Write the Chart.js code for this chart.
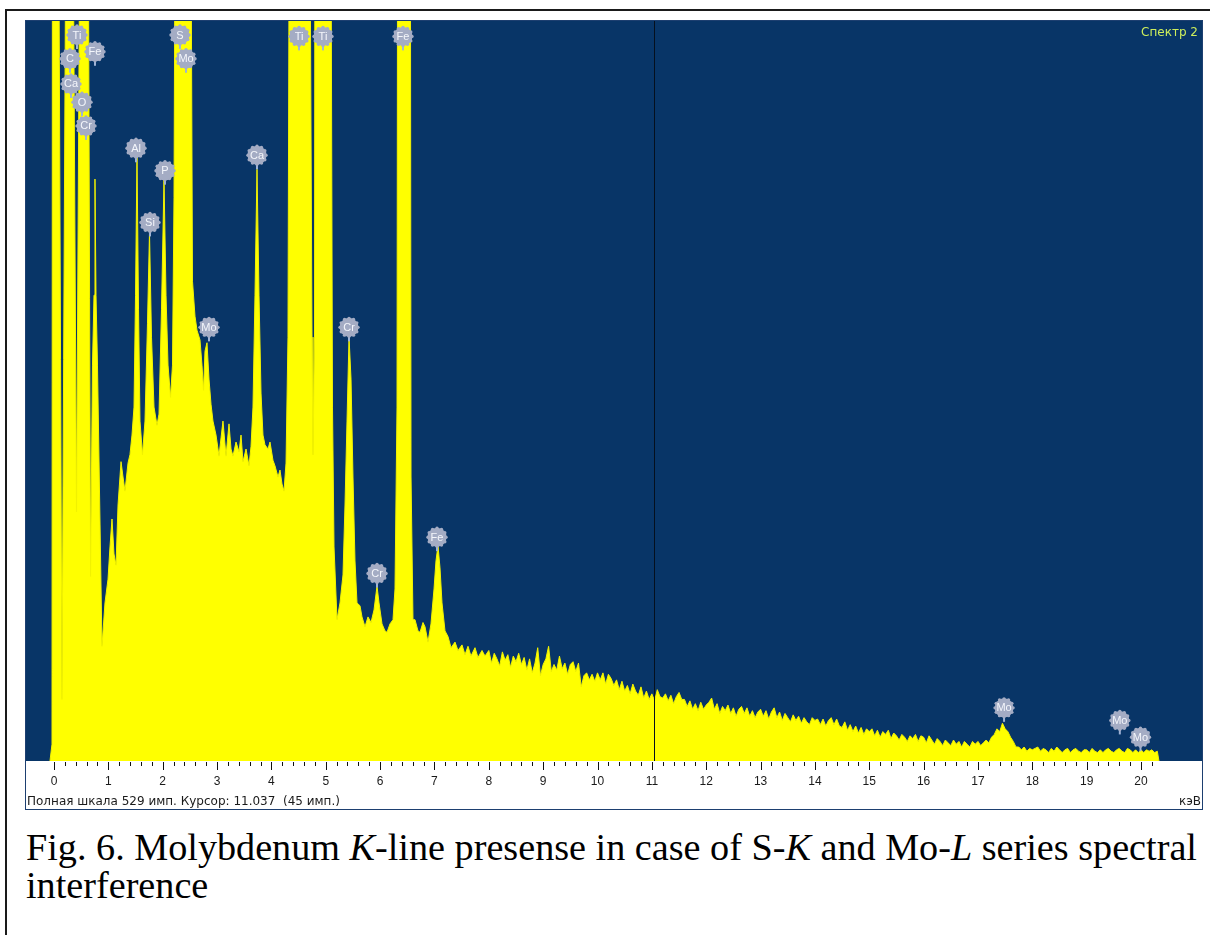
<!DOCTYPE html>
<html>
<head>
<meta charset="utf-8">
<script src="https://cdn.jsdelivr.net/npm/chart.js@4.4.0/dist/chart.umd.min.js"></script>
<style>
  html, body { margin: 0; padding: 0; background: #fff; overflow: hidden; }
  body { width: 1210px; height: 935px; position: relative; font-family: "Liberation Sans", Arial, sans-serif; }
  #frame { position: absolute; left: 5px; top: 9px; width: 1220px; height: 950px; border-top: 2px solid #1a1a1a; border-left: 2px solid #1a1a1a; }
  #box { position: absolute; left: 25px; top: 20px; width: 1176px; height: 788px; border: 1px solid #1d3f70; background: #fff; }
  #box canvas { position: absolute; left: 0; top: 0; }
  .txt { position: absolute; font-family: "DejaVu Sans", Verdana, sans-serif; font-size: 12px; line-height: 14px; color: #1a1a1a; white-space: nowrap; }
  #spec { position: absolute; right: 4px; top: 4px; font-family: "DejaVu Sans", Verdana, sans-serif; font-size: 12px; line-height: 14px; color: #cdee5c; }
  #caption { position: absolute; left: 26px; top: 828px; font-family: "Liberation Serif", "Times New Roman", serif; font-size: 38.2px; line-height: 38px; color: #000; white-space: nowrap; }
</style>
</head>
<body>
<div id="frame"></div>
<div id="box">
  <canvas id="chart" width="1176" height="788"></canvas>
  <div id="spec">Спектр 2</div>
  <div class="txt" style="left:1px; top:773px;">Полная шкала 529 имп. Курсор: 11.037&nbsp;&nbsp;(45 имп.)</div>
  <div class="txt" style="right:1px; top:773px;">кэВ</div>
</div>
<div id="caption">Fig. 6. Molybdenum <i>K</i>-line presense in case of S-<i>K</i> and Mo-<i>L</i> series spectral<br>interference</div>

<script>
// spectrum below 8 keV, read point by point (keV, counts); 1500 = off scale
const lowEnergy = [
  -0.074, -0.037, -0.018, 0.074, 0.092, 0.147, 0.212, 0.239, 0.331, 0.359,
  0.414, 0.469, 0.497, 0.616, 0.635, 0.672, 0.708, 0.736, 0.754, 0.773,
  0.800, 0.883, 0.938, 0.994, 1.030, 1.067, 1.104, 1.141, 1.178, 1.233,
  1.270, 1.306, 1.362, 1.398, 1.435, 1.472, 1.500, 1.527, 1.555, 1.582,
  1.628, 1.674, 1.720, 1.757, 1.794, 1.840, 1.895, 1.932, 1.978, 2.024,
  2.061, 2.098, 2.144, 2.180, 2.208, 2.236, 2.263, 2.484, 2.521, 2.548,
  2.594, 2.631, 2.686, 2.723, 2.751, 2.778, 2.815, 2.852, 2.889, 2.925,
  2.981, 3.036, 3.073, 3.109, 3.165, 3.220, 3.257, 3.293, 3.349, 3.404,
  3.441, 3.477, 3.533, 3.588, 3.625, 3.661, 3.698, 3.735, 3.772, 3.809,
  3.845, 3.882, 3.937, 3.974, 4.029, 4.066, 4.121, 4.158, 4.195, 4.232,
  4.269, 4.305, 4.342, 4.379, 4.673, 4.710, 4.747, 4.765, 4.793, 4.821,
  5.060, 5.097, 5.124, 5.152, 5.207, 5.262, 5.317, 5.354, 5.391, 5.428,
  5.465, 5.501, 5.538, 5.575, 5.630, 5.667, 5.722, 5.777, 5.833, 5.888,
  5.943, 5.980, 6.035, 6.090, 6.127, 6.182, 6.237, 6.274, 6.311, 6.348,
  6.532, 6.569, 6.605, 6.642, 6.697, 6.734, 6.789, 6.826, 6.881, 6.936,
  6.992, 7.028, 7.065, 7.102, 7.139, 7.194, 7.249, 7.305, 7.378, 7.433,
  7.507, 7.562, 7.617, 7.672, 7.746, 7.801, 7.875, 7.930
]
const lowCounts = [
  0, 12, 1500, 1500, 560, 44, 560, 1500, 1500, 560,
  178, 560, 1500, 1500, 560, 132, 283, 333, 416, 333,
  283, 82, 113, 130, 153, 173, 148, 140, 183, 214,
  203, 193, 213, 219, 233, 253, 333, 433, 323, 243,
  219, 243, 313, 378, 303, 253, 240, 248, 323, 416,
  333, 283, 260, 283, 403, 700, 1500, 1500, 600, 343,
  318, 308, 301, 283, 265, 293, 299, 273, 255, 243,
  233, 218, 231, 243, 218, 241, 223, 218, 228, 221,
  233, 214, 223, 211, 225, 253, 333, 423, 333, 263,
  233, 226, 223, 228, 215, 211, 203, 208, 198, 193,
  213, 303, 800, 1500, 1500, 600, 303, 219, 303, 1500,
  1500, 600, 253, 153, 101, 113, 133, 183, 243, 303,
  273, 203, 143, 113, 111, 103, 96, 103, 99, 108,
  125, 113, 98, 93, 92, 98, 101, 123, 253, 1500,
  1500, 203, 101, 101, 93, 92, 99, 96, 85, 98,
  123, 143, 154, 138, 113, 93, 89, 81, 85, 79,
  83, 76, 82, 75, 81, 74, 79, 75
]

// continuum from 8.00 keV in 0.05 keV channels
const tailStart = 8.0
const tailStep = 0.05
const tailCounts = [
  79, 70, 77, 73, 68, 78, 72, 76, 67, 75, 71, 77, 69, 74, 65, 73, 63, 70, 81, 61,
  69, 73, 82, 64, 69, 65, 75, 66, 70, 62, 69, 71, 64, 70, 53, 61, 63, 58, 62, 57,
  63, 58, 63, 55, 62, 59, 54, 58, 51, 57, 50, 54, 48, 55, 50, 47, 53, 45, 50, 44,
  48, 43, 51, 46, 45, 48, 43, 47, 41, 46, 49, 44, 44, 39, 43, 37, 41, 36, 42, 37,
  40, 42, 45, 37, 41, 34, 39, 36, 40, 34, 38, 32, 37, 39, 34, 38, 32, 36, 31, 35,
  37, 32, 36, 30, 35, 38, 31, 35, 29, 34, 31, 28, 33, 29, 32, 27, 31, 28, 26, 31,
  29, 30, 26, 30, 25, 29, 31, 26, 30, 25, 24, 28, 22, 26, 21, 25, 20, 24, 19, 23,
  21, 23, 18, 22, 17, 21, 19, 22, 16, 20, 18, 15, 19, 17, 14, 18, 16, 19, 14, 18,
  17, 13, 18, 15, 12, 16, 14, 11, 15, 13, 11, 15, 12, 14, 10, 14, 12, 10, 14, 12,
  14, 11, 13, 15, 13, 17, 19, 23, 21, 27, 23, 21, 17, 14, 10, 10, 8, 10, 7, 9,
  8, 9, 10, 7, 9, 8, 6, 9, 7, 10, 8, 6, 8, 9, 6, 8, 9, 7, 6, 8,
  8, 6, 9, 7, 6, 8, 6, 8, 9, 7, 6, 8, 9, 7, 6, 9, 8, 6, 8, 6,
  8, 6, 8, 7, 8, 6, 7
]
const endEnergy = [20.33]
const endCounts = [0]

// element markers: symbol, energy (keV), marker height (counts)
const markerSymbols = ['Ti', 'C', 'Fe', 'Ca', 'O', 'Cr', 'Al', 'Si', 'P', 'S', 'Mo', 'Mo', 'Ca',
  'Ti', 'Ti', 'Fe', 'Cr', 'Cr', 'Fe', 'Mo', 'Mo', 'Mo']
const markerEnergy = [0.423, 0.294, 0.754, 0.313, 0.515, 0.589, 1.509, 1.766, 2.042, 2.318, 2.429, 2.852, 3.735,
  4.508, 4.949, 6.421, 5.428, 5.943, 7.047, 17.48, 19.61, 19.99]
const markerHeight = [519, 502, 507, 484, 471, 454, 438, 385, 422, 519, 502, 310, 433,
  518, 518, 518, 310, 134, 160, 38, 29, 17]

const majorTicks = [0, 1, 2, 3, 4, 5, 6, 7, 8, 9, 10, 11, 12, 13, 14, 15, 16, 17, 18, 19, 20]
const fullScale = 529
const cursorKeV = 11.037

const plotBg = '#083567'
const fillYellow = '#ffff00'

const points = []
lowEnergy.forEach((e, i) => points.push({ x: e, y: lowCounts[i] }))
tailCounts.forEach((c, i) => points.push({ x: tailStart + i * tailStep, y: c }))
endEnergy.forEach((e, i) => points.push({ x: e, y: endCounts[i] }))

const spectrumDecor = {
  id: 'spectrumDecor',
  beforeDraw(chart) {
    const { ctx, chartArea: a } = chart
    ctx.save()
    ctx.fillStyle = plotBg
    ctx.fillRect(a.left, a.top, a.right - a.left, a.bottom - a.top)
    ctx.restore()
  },
  afterDatasetsDraw(chart) {
    const { ctx, chartArea: a, scales: { x, y } } = chart
    ctx.save()
    // cursor
    const cx = Math.round(x.getPixelForValue(cursorKeV)) + 0.5
    ctx.strokeStyle = '#05101e'
    ctx.lineWidth = 1
    ctx.beginPath()
    ctx.moveTo(cx, a.top)
    ctx.lineTo(cx, a.bottom)
    ctx.stroke()

    // tick marks every 0.2 keV
    ctx.strokeStyle = '#111'
    for (let i = 0; i <= 101; i++) {
      const px = Math.round(x.getPixelForValue(i * 0.2)) + 0.5
      const len = i % 5 === 0 ? 8 : 4
      ctx.beginPath()
      ctx.moveTo(px, a.bottom + 1)
      ctx.lineTo(px, a.bottom + 1 + len)
      ctx.stroke()
    }

    // element markers
    ctx.font = '11px "Liberation Sans", Arial, sans-serif'
    ctx.textAlign = 'center'
    ctx.textBaseline = 'middle'
    markerSymbols.forEach((sym, i) => {
      const mx = x.getPixelForValue(markerEnergy[i])
      const my = y.getPixelForValue(markerHeight[i])
      ctx.strokeStyle = '#9fb3d6'
      ctx.lineWidth = 2
      ctx.beginPath()
      ctx.moveTo(mx, my + 7)
      ctx.lineTo(mx, my + 14)
      ctx.stroke()
      ctx.fillStyle = '#a4acc4'
      for (let k = 0; k < 12; k++) {
        const ang = k * Math.PI / 6
        ctx.beginPath()
        ctx.arc(mx + Math.cos(ang) * 9, my + Math.sin(ang) * 9, 1.7, 0, Math.PI * 2)
        ctx.fill()
      }
      ctx.beginPath()
      ctx.arc(mx, my, 9.5, 0, Math.PI * 2)
      ctx.fill()
      ctx.fillStyle = '#f4f6fb'
      ctx.fillText(sym, mx, my + 0.5)
    })
    ctx.restore()
  }
}

new Chart(document.getElementById('chart'), {
  type: 'line',
  data: {
    datasets: [{
      data: points,
      fill: 'origin',
      backgroundColor: fillYellow,
      borderColor: '#f2f200',
      borderWidth: 1,
      pointRadius: 0,
      tension: 0
    }]
  },
  options: {
    responsive: false,
    animation: false,
    devicePixelRatio: 1,
    layout: { padding: 0 },
    plugins: { legend: { display: false }, tooltip: { enabled: false } },
    scales: {
      x: {
        type: 'linear',
        min: -0.5152,
        max: 21.122,
        grid: { display: false },
        border: { display: false },
        ticks: {
          autoSkip: false,
          maxRotation: 0,
          padding: 5,
          color: '#1a1a1a',
          font: { family: '"Liberation Sans", Arial, sans-serif', size: 12 },
          callback: (v) => String(v)
        },
        afterBuildTicks: (scale) => { scale.ticks = majorTicks.map(v => ({ value: v })) },
        afterFit: (scale) => { scale.height = 48 }
      },
      y: { display: false, min: 0, max: fullScale }
    }
  },
  plugins: [spectrumDecor]
})
</script>
</body>
</html>
